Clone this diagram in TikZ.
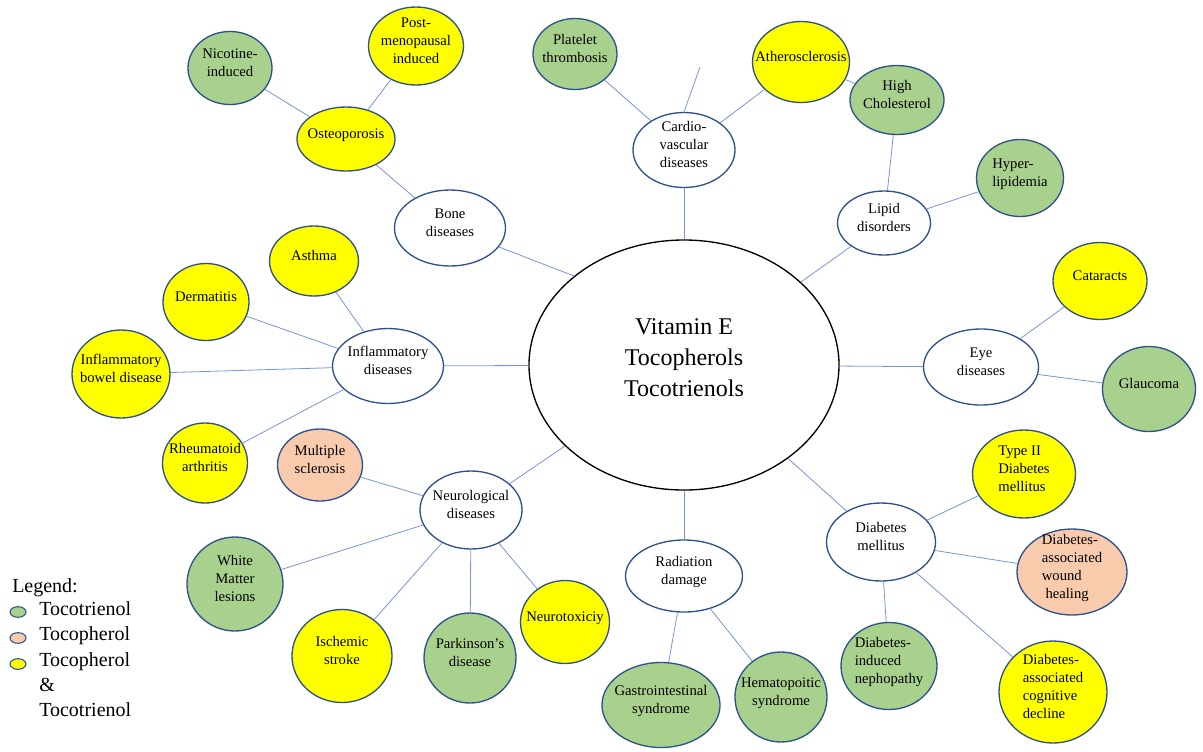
\documentclass[tikz,border=0pt]{standalone}
\usepackage{fontspec}
\setmainfont{Liberation Serif}
\usepackage{tikz}
\usepackage{xcolor}
\usetikzlibrary{shapes.geometric}

\definecolor{tgreen}{HTML}{A9D18E}
\definecolor{tpeach}{HTML}{F8CBAD}
\definecolor{tyellow}{HTML}{FFFF00}
\definecolor{rimblue}{HTML}{2F528F}
\definecolor{linkblue}{HTML}{7596D6}

% centred text box of zero size, so the ellipse keeps its own size
\newcommand{\lbl}[2][c]{\makebox[0pt]{\begin{tabular}{@{}#1@{}}#2\end{tabular}}}

\begin{document}
\begin{tikzpicture}[x=0.75pt, y=-0.75pt]
    % Define styles
    \tikzstyle{hub} = [ellipse, draw=black, line width=1pt, fill=white, inner sep=0pt, text height=0pt, text depth=0pt, font=\fontsize{18}{23}\selectfont]
    \tikzstyle{topic} = [ellipse, draw=rimblue, line width=1pt, fill=white, inner sep=0pt, text height=0pt, text depth=0pt, font=\fontsize{11}{13.5}\selectfont]
    \tikzstyle{trienol} = [topic, fill=tgreen]
    \tikzstyle{pherol} = [topic, fill=tpeach]
    \tikzstyle{mixed} = [topic, fill=tyellow]
    \tikzstyle{link} = [draw=linkblue, line width=0.6pt]
    \tikzstyle{swatch} = [ellipse, draw=rimblue, line width=0.8pt, inner sep=0pt, minimum width=12pt, minimum height=8pt]
    \tikzstyle{legtext} = [anchor=base west, inner sep=0pt, font=\fontsize{15}{19}\selectfont]
    \tikzset{wh/.style 2 args={minimum width=#1*0.75pt, minimum height=#2*0.75pt}}

    \useasboundingbox (0,0) rectangle (1203,751);

    % Centre
    \node (hub) [hub, wh={310}{250}] at (684,365) {\lbl{Vitamin E\\Tocopherols\\Tocotrienols}};

    % Cardiovascular and lipids
    \node (cardio) [topic, wh={102}{75}] at (684,150) {\lbl{Cardio-\\vascular\\diseases}};
    \node (platelet) [trienol, wh={84}{71}] at (575,54) {\lbl{Platelet\\thrombosis}};
    \node (athero) [mixed, wh={97}{81}] at (801,62) {\lbl{Atherosclerosis}};
    \coordinate (cvtip) at (700,67);
    \node (lipid) [topic, wh={93}{64}] at (884,223) {\lbl{Lipid\\disorders}};
    \node (cholest) [trienol, wh={94}{69}] at (897,100) {\lbl{High\\Cholesterol}};
    \node (hyperlip) [trienol, wh={87}{77}] at (1020,178) {\lbl[l]{Hyper-\\lipidemia}};

    % Eye
    \node (eye) [topic, wh={115}{76}] at (981,367) {\lbl{Eye\\diseases}};
    \node (cataract) [mixed, wh={94}{77}] at (1100,281) {\lbl{Cataracts}};
    \node (glaucoma) [trienol, wh={93}{85}] at (1149,389) {\lbl{Glaucoma}};

    % Diabetes
    \node (diabetes) [topic, wh={109}{78}] at (881,542) {\lbl{Diabetes\\mellitus}};
    \node (type2) [mixed, wh={103}{88}] at (1024,474) {\lbl[l]{Type II\\Diabetes\\mellitus}};
    \node (wound) [pherol, wh={110}{86}] at (1072,572) {\lbl[l]{Diabetes-\\associated\\wound\\\ healing}};
    \node (nephro) [trienol, wh={96}{87}] at (889,666) {\lbl[l]{Diabetes-\\induced\\nephopathy}};
    \node (cognit) [mixed, wh={108}{102}] at (1053,692) {\lbl[l]{Diabetes-\\associated\\cognitive\\decline}};

    % Radiation
    \node (radiation) [topic, wh={117}{72}] at (684,576) {\lbl{Radiation\\damage}};
    \node (gastro) [trienol, wh={118}{85}] at (661,705) {\lbl{Gastrointestinal\\syndrome}};
    \node (hemato) [trienol, wh={92}{90}] at (781,697) {\lbl{Hematopoitic\\syndrome}};

    % Neurological
    \node (neuro) [topic, wh={102}{78}] at (471,510) {\lbl{Neurological\\diseases}};
    \node (sclerosis) [pherol, wh={85}{72}] at (320,465) {\lbl{Multiple\\sclerosis}};
    \node (whitemat) [trienol, wh={96}{94}] at (235,584) {\lbl{White\\Matter\\lesions}};
    \node (ischemic) [mixed, wh={100}{93}] at (342,656) {\lbl{Ischemic\\stroke}};
    \node (parkinson) [trienol, wh={92}{90}] at (470,658) {\lbl{Parkinson’s\\disease}};
    \node (neurotox) [mixed, wh={89}{83}] at (565,622) {\lbl{Neurotoxiciy}};

    % Inflammatory
    \node (inflam) [topic, wh={111}{75}] at (388,366) {\lbl{Inflammatory\\diseases}};
    \node (asthma) [mixed, wh={89}{70}] at (314,261) {\lbl{Asthma}};
    \node (dermat) [mixed, wh={86}{77}] at (206,302) {\lbl{Dermatitis}};
    \node (ibd) [mixed, wh={98}{88}] at (121,374) {\lbl{Inflammatory\\bowel disease}};
    \node (rheuma) [mixed, wh={85}{80}] at (205,463) {\lbl{Rheumatoid\\arthritis}};

    % Bone
    \node (bone) [topic, wh={111}{76}] at (450,228) {\lbl{Bone\\diseases}};
    \node (osteo) [mixed, wh={98}{64}] at (346,139) {\lbl{Osteoporosis}};
    \node (nicotine) [trienol, wh={84}{73}] at (230,68) {\lbl{Nicotine-\\induced}};
    \node (postmeno) [mixed, wh={95}{78}] at (416,46) {\lbl{Post-\\menopausal\\induced}};

    % Legend
    \node (legtitle) [legtext] at (12,592) {Legend:};
    \node (sw1) [swatch, fill=tgreen] at (18,612) {};
    \node (sw2) [swatch, fill=tpeach] at (18,638) {};
    \node (sw3) [swatch, fill=tyellow] at (18,664) {};
    \node (lg1) [legtext] at (39,615) {Tocotrienol};
    \node (lg2) [legtext] at (39,640) {Tocopherol};
    \node (lg3) [legtext, anchor=north west, align=left] at (39,652) {Tocopherol\\\&\\Tocotrienol};

    % Links from the centre
    \draw [link] (hub) -- (cardio);
    \draw [link] (hub) -- (lipid);
    \draw [link] (hub) -- (eye);
    \draw [link] (hub) -- (diabetes);
    \draw [link] (hub) -- (radiation);
    \draw [link] (hub) -- (neuro);
    \draw [link] (hub) -- (inflam);
    \draw [link] (hub.141) -- (bone);

    % Links to the leaves
    \draw [link] (cardio) -- (platelet);
    \draw [link] (cardio) -- (athero);
    \draw [link] (cardio.north) -- (cvtip);
    \draw [link] (athero) -- (cholest);
    \draw [link] (cholest) -- (lipid);
    \draw [link] (lipid) -- (hyperlip);
    \draw [link] (eye) -- (cataract);
    \draw [link] (eye) -- (glaucoma);
    \draw [link] (diabetes) -- (type2);
    \draw [link] (diabetes) -- (wound);
    \draw [link] (diabetes) -- (nephro);
    \draw [link] (diabetes) -- (cognit);
    \draw [link] (radiation) -- (gastro);
    \draw [link] (radiation) -- (hemato);
    \draw [link] (neuro) -- (sclerosis);
    \draw [link] (neuro) -- (whitemat);
    \draw [link] (neuro) -- (ischemic);
    \draw [link] (neuro) -- (parkinson);
    \draw [link] (neuro) -- (neurotox);
    \draw [link] (inflam) -- (asthma);
    \draw [link] (inflam) -- (dermat);
    \draw [link] (inflam) -- (ibd);
    \draw [link] (inflam) -- (rheuma);
    \draw [link] (bone) -- (osteo);
    \draw [link] (osteo) -- (nicotine);
    \draw [link] (osteo) -- (postmeno);
\end{tikzpicture}
\end{document}
